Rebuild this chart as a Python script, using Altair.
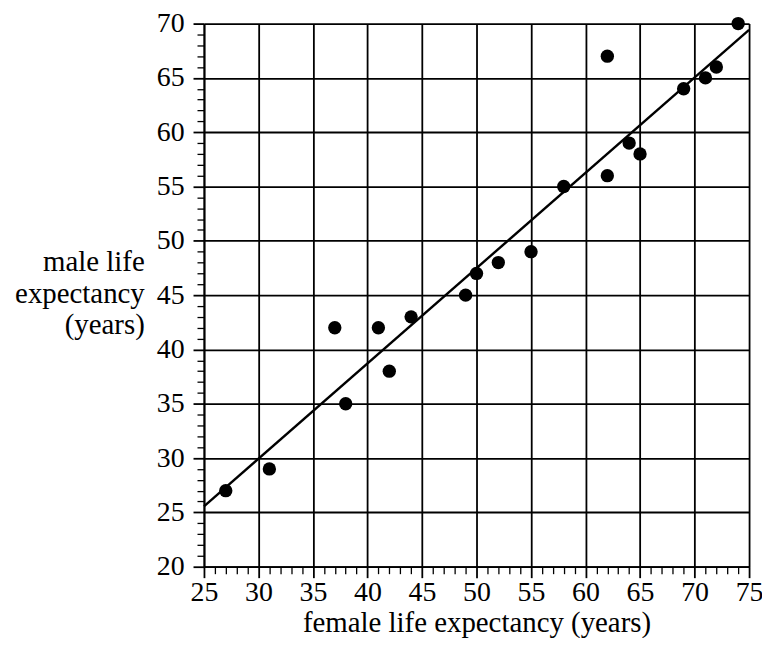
import altair as alt
import pandas as pd

female = [27, 31, 37, 38, 41, 42, 44, 49, 50, 52, 55, 58, 62, 62, 64, 65, 69, 71, 72, 74]
male = [27, 29, 42, 35, 42, 38, 43, 45, 47, 48, 49, 55, 56, 67, 59, 58, 64, 65, 66, 70]

x_ticks = list(range(25, 76))
y_ticks = list(range(20, 71))

df = pd.DataFrame({"female": female, "male": male})

FONT = "Liberation Serif"
FS = 29
LFS = 28

major = "datum.value % 5 === 0"


def axis(values, **kw):
    return alt.Axis(
        values=values,
        labelExpr=f"{major} ? datum.label : ''",
        labelOverlap=False,
        labelFlush=False,
        labelBound=False,
        labelFont=FONT,
        labelFontSize=LFS,
        labelColor="black",
        titleFont=FONT,
        titleFontSize=FS,
        titleFontWeight="normal",
        titleColor="black",
        tickColor="black",
        tickSize={"condition": {"test": major, "value": 11}, "value": 7},
        tickWidth={"condition": {"test": major, "value": 1.8}, "value": 1.3},
        grid=True,
        gridColor="black",
        gridWidth=1.8,
        gridOpacity={"condition": {"test": major, "value": 1}, "value": 0},
        domainColor="black",
        domainWidth=1.8,
        **kw,
    )


xenc = alt.X(
    "female:Q",
    scale=alt.Scale(domain=[25, 75], nice=False, zero=False),
    axis=axis(
        x_ticks,
        title="female life expectancy (years)",
        labelPadding=1,
        titleAlign="center",
        titleBaseline="alphabetic",
        titleX=274,
        titleY=65,
    ),
)
yenc = alt.Y(
    "male:Q",
    scale=alt.Scale(domain=[20, 70], nice=False, zero=False),
    axis=axis(
        y_ticks,
        title=["male life", "expectancy", "(years)"],
        labelPadding=9,
        titleAngle=0,
        titleAlign="right",
        titleBaseline="alphabetic",
        titleLineHeight=32,
        titleX=-60,
        titleY=248,
    ),
)

points = alt.Chart(df).mark_circle(size=180, color="black", opacity=1).encode(x=xenc, y=yenc)

line = (
    alt.Chart(df)
    .transform_regression("female", "male", extent=[25, 75])
    .mark_line(color="black", strokeWidth=2.4)
    .encode(x=xenc, y=yenc)
)

chart = (
    alt.layer(line, points)
    .properties(
        width=548,
        height=546,
        autosize=alt.AutoSizeParams(type="none"),
        padding={"left": 197, "top": 14, "right": 13, "bottom": 70},
    )
    .configure_view(stroke=None)
)

chart.save("out.html", embed_options={"renderer": "svg", "actions": False})
